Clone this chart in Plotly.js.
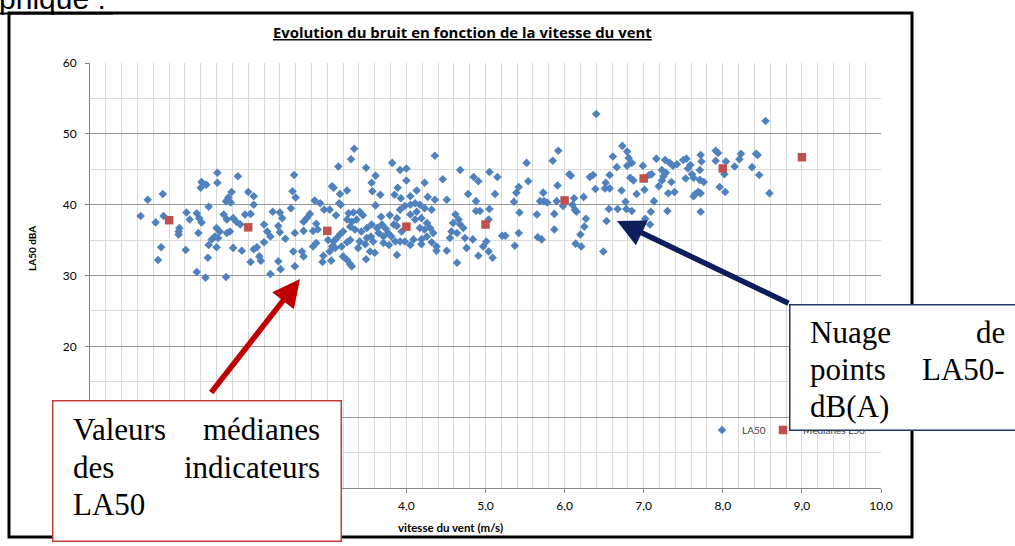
<!DOCTYPE html>
<html>
<head>
<meta charset="utf-8">
<script src="https://cdn.plot.ly/plotly-3.0.1.min.js"></script>
<style>
  html, body { margin: 0; padding: 0; background: #ffffff; }
  #chart { width: 1015px; height: 546px; }
</style>
</head>
<body>
<div id="chart"></div>
<script>
// Wind speed (m/s) of each LA50 measurement
const windSpeed = [
  1.61,1.87,1.41,1.47,1.61,1.40,0.92,0.73,1.79,2.00,
  2.07,1.75,1.72,1.78,2.07,1.50,0.64,0.93,1.22,1.35,
  1.26,0.83,1.38,1.41,1.13,1.12,1.12,1.37,1.69,1.73,
  1.81,1.85,1.90,1.96,2.03,1.60,1.64,1.58,1.54,1.50,
  1.62,1.73,1.77,1.60,0.90,1.21,1.49,0.86,1.81,1.92,
  2.07,2.11,2.14,2.16,2.03,2.20,2.20,2.24,2.28,2.31,
  2.40,2.43,2.38,2.40,2.47,2.38,2.41,2.28,2.59,1.35,
  1.46,1.72,2.58,2.56,2.54,2.60,2.59,2.57,
  3.34,3.30,3.14,3.49,3.61,3.56,3.57,3.67,3.82,3.92,
  4.00,4.00,3.89,3.85,3.93,4.05,4.13,4.23,4.36,4.46,
  4.68,4.27,4.36,4.51,4.78,3.06,3.08,3.25,3.16,3.15,
  3.17,3.61,2.84,2.91,2.96,3.03,2.78,2.74,2.70,2.86,
  2.88,2.82,2.70,3.11,3.27,3.33,3.41,3.45,3.25,3.31,
  3.37,3.29,3.35,3.20,3.16,3.12,3.08,3.06,3.10,3.03,
  3.18,3.25,3.29,3.01,2.86,2.82,2.95,3.05,2.94,3.20,
  3.25,3.29,3.31,3.49,2.70,2.68,3.41,3.39,3.48,3.54,
  3.60,3.43,3.50,3.56,3.63,3.69,3.74,3.65,3.71,3.77,
  3.81,3.68,3.79,3.88,3.92,3.98,4.05,4.11,4.17,4.23,
  4.32,4.13,4.05,4.11,4.19,4.26,4.17,4.23,4.30,4.34,
  4.26,4.19,4.19,4.32,4.38,4.38,4.51,4.64,3.88,3.92,
  3.98,4.05,4.09,3.88,3.94,3.84,4.62,4.66,4.59,4.68,
  4.57,4.64,4.72,4.74,4.76,4.55,3.58,3.71,3.78,3.86,
  3.55,3.50,
  6.40,5.92,5.52,5.85,5.05,5.15,4.85,4.91,5.54,5.42,
  5.39,5.12,4.88,5.36,5.91,5.73,5.69,5.74,5.78,5.90,
  5.98,6.06,6.08,6.12,6.10,6.13,6.15,6.24,6.32,6.36,
  6.39,6.52,6.51,6.57,6.57,6.61,6.66,6.73,6.79,6.81,
  6.79,6.85,6.83,6.87,6.72,6.91,6.77,6.56,6.67,6.78,
  6.85,6.53,6.27,6.25,6.20,6.14,6.21,6.49,5.87,5.87,
  5.65,5.43,5.42,5.37,5.21,5.25,5.66,5.71,5.04,4.84,
  5.01,4.97,5.04,4.91,5.09,5.05,4.93,4.88,
  8.54,7.91,7.94,7.72,8.23,8.42,8.44,8.21,7.16,7.27,
  7.33,7.37,7.42,7.50,7.54,7.59,7.56,7.73,7.91,8.04,
  8.15,8.37,6.99,7.07,7.10,7.23,7.28,7.25,7.23,7.35,
  7.71,7.61,7.63,7.53,7.71,7.76,8.02,8.46,7.19,7.01,
  7.31,7.39,7.65,7.69,7.72,7.63,7.96,8.03,8.59,7.13,
  7.09,7.30,7.72,7.02,7.08,6.97
];

// LA50 level (dBA) of each measurement
const la50 = [
  44.5,44.0,43.2,42.8,43.1,42.4,41.5,40.7,41.8,41.8,
  41.2,41.0,40.5,40.3,40.0,39.7,38.4,38.4,38.9,38.8,
  37.9,37.5,38.1,37.5,36.7,36.2,35.8,36.0,38.6,37.9,
  38.1,37.6,37.2,38.6,38.7,36.7,36.2,35.5,35.1,34.3,
  35.3,36.0,36.2,34.0,34.0,33.6,32.5,32.2,33.9,33.5,
  33.7,34.0,32.7,32.1,31.9,34.7,37.2,36.2,35.5,39.0,
  38.9,38.1,37.0,36.1,35.2,32.0,30.9,30.2,31.3,30.5,
  29.7,29.8,44.2,41.9,39.5,41.0,36.0,33.4,
  47.9,46.4,45.4,45.2,44.1,43.1,41.9,41.4,45.9,44.9,
  45.1,43.4,42.4,41.4,40.9,41.2,42.0,43.1,46.9,43.6,
  44.9,41.1,40.7,40.7,41.5,42.6,42.4,42.0,41.5,40.2,
  40.0,39.9,40.6,40.2,39.3,39.3,38.7,38.1,37.6,37.3,
  36.5,36.3,36.3,38.5,38.8,38.9,39.0,38.5,37.9,37.6,
  37.9,36.9,36.5,36.2,35.8,35.3,34.8,34.1,33.9,33.4,
  34.1,34.7,35.0,35.0,34.6,34.1,32.8,32.1,31.9,32.7,
  32.2,31.6,31.3,32.3,32.7,33.4,34.8,33.9,34.4,33.4,
  33.2,36.2,36.7,37.2,36.7,37.2,36.6,36.0,35.5,36.0,
  35.5,38.3,38.5,38.1,39.3,39.8,40.0,40.2,40.0,39.5,
  39.3,39.0,38.6,37.9,38.1,37.4,36.7,36.5,36.7,36.0,
  35.5,35.1,34.4,34.7,34.1,33.5,33.5,31.8,32.9,34.8,
  34.8,34.3,35.1,37.0,36.2,37.2,38.6,37.9,37.4,37.2,
  36.2,36.0,36.7,35.3,33.9,35.3,34.8,34.6,34.3,34.8,
  35.5,35.3,
  52.8,47.6,45.9,46.2,44.6,43.9,43.9,43.3,43.3,42.5,
  41.7,41.5,40.5,40.4,42.7,41.7,40.5,40.5,40.3,40.5,
  39.8,44.3,44.1,40.9,40.0,39.3,39.0,41.1,43.9,44.2,
  42.2,43.1,42.3,42.3,44.2,46.8,45.3,48.3,47.5,46.6,
  45.5,45.9,43.8,43.4,42.0,41.5,40.4,39.4,39.4,39.4,
  39.1,37.7,38.0,36.9,35.8,34.5,34.1,33.4,36.5,38.7,
  38.6,38.9,36.0,34.2,35.6,35.6,35.4,35.1,37.9,35.1,
  34.8,34.1,33.4,32.8,32.5,39.4,39.1,39.1,
  51.8,47.6,47.3,47.0,47.2,47.2,47.0,46.4,46.5,46.3,
  45.9,45.5,45.7,46.3,46.5,45.6,45.1,46.1,46.2,46.1,
  45.4,45.3,45.5,44.2,44.3,44.9,44.5,44.0,43.4,43.2,
  44.9,44.3,43.8,43.7,43.5,43.2,44.3,44.2,42.6,42.1,
  41.6,41.8,41.5,41.8,41.6,41.2,42.5,41.8,41.6,40.5,
  39.0,39.1,39.0,38.0,37.2,37.2
];

// Median LA50 for each wind speed class
const medianWind = [1, 2, 3, 4, 5, 6, 7, 8, 9];
const medianLA50 = [37.8, 36.8, 36.3, 36.9, 37.2, 40.6, 43.7, 45.1, 46.7];

const chartTitle = 'Evolution du bruit en fonction de la vitesse du vent';
const xTitle = 'vitesse du vent (m/s)';
const yTitle = 'LA50 dBA';

// plot area geometry (pixels)
const W = 1015, H = 546;
const M = { l: 90, r: 134, t: 63, b: 58 };
const PW = W - M.l - M.r, PH = H - M.t - M.b;
const px = v => (v - M.l) / PW;          // pixel x -> paper x
const py = v => (H - M.b - v) / PH;      // pixel y -> paper y

const blue = '#4f81bd';
const red = '#c0504d';

const traces = [
  {
    type: 'scatter', mode: 'markers', name: 'LA50',
    x: windSpeed, y: la50,
    marker: { symbol: 'diamond', size: 6.6, color: blue, line: { width: 0 } },
    legend: 'legend', hoverinfo: 'x+y'
  },
  {
    type: 'scatter', mode: 'markers', name: 'Médianes L50',
    x: medianWind, y: medianLA50,
    marker: { symbol: 'square', size: 8.5, color: red, line: { width: 0 } },
    legend: 'legend2', hoverinfo: 'x+y'
  }
];

const serif = 'Liberation Serif, Times New Roman, serif';
const txt = (text, x, y, anchor, opts) => Object.assign({
  text, xref: 'paper', yref: 'paper', x: px(x), y: py(y),
  xanchor: anchor, yanchor: 'middle', showarrow: false,
  borderpad: 0, borderwidth: 0,
  font: { family: serif, size: 31, color: '#000' }
}, opts || {});

const boxAnn = (x0, y0, x1, y1, color) => ({
  text: ' ', xref: 'paper', yref: 'paper', x: px(x0), y: py(y0),
  xanchor: 'left', yanchor: 'top', showarrow: false,
  width: x1 - x0 - 3, height: y1 - y0 - 3,
  bgcolor: '#ffffff', bordercolor: color, borderwidth: 1.5, borderpad: 0
});

const arrowAnn = (tipX, tipY, tailX, tailY, color) => ({
  text: '', xref: 'paper', yref: 'paper', x: px(tipX), y: py(tipY),
  ax: tailX - tipX, ay: tailY - tipY, showarrow: true,
  arrowcolor: color, arrowwidth: 5.5, arrowhead: 2, arrowsize: 1, standoff: 0
});

const annotations = [
  // heading of the page section, cut by the frame
  { text: 'Graphique :', xref: 'paper', yref: 'paper', x: px(108), y: py(-1),
    xanchor: 'right', yanchor: 'middle', showarrow: false,
    font: { family: 'Liberation Sans, Arial, sans-serif', size: 30, color: '#000' } },
  // chart title
  { text: '<b>' + chartTitle + '</b>', xref: 'paper', yref: 'paper',
    x: px(462), y: py(32), xanchor: 'center', yanchor: 'middle', showarrow: false,
    font: { family: 'Open Sans, sans-serif', size: 14.9, color: '#000', lineposition: 'under' } },
  // axis titles
  { text: '<b>' + yTitle + '</b>', xref: 'paper', yref: 'paper',
    x: px(32), y: py(249), xanchor: 'center', yanchor: 'middle', textangle: -90,
    showarrow: false, font: { family: 'Lato, sans-serif', size: 10, color: '#000' } },
  { text: '<b>' + xTitle + '</b>', xref: 'paper', yref: 'paper',
    x: px(450), y: py(527), xanchor: 'center', yanchor: 'middle',
    showarrow: false, font: { family: 'Lato, sans-serif', size: 11.5, color: '#000' } },

  // callout boxes
  boxAnn(52, 400, 342, 542, '#c43b3b'),
  boxAnn(789, 304, 1030, 431, '#1f3864'),

  // callout texts (justified lines)
  txt('Valeurs', 73, 429.5, 'left'),
  txt('médianes', 320, 429.5, 'right'),
  txt('des', 73, 467.5, 'left'),
  txt('indicateurs', 320, 467.5, 'right'),
  txt('LA50', 73, 504.5, 'left'),
  txt('Nuage', 810, 332.5, 'left'),
  txt('de', 1005, 332.5, 'right'),
  txt('points', 810, 369.5, 'left'),
  txt('LA50-', 1005, 369.5, 'right'),
  txt('dB(A)', 810, 406.5, 'left'),

  // arrows
  arrowAnn(300, 279, 210, 394, '#c00000'),
  arrowAnn(617, 221, 790, 304, '#0c1f5c')
];

const shapes = [
  // frame of the chart
  { type: 'rect', xref: 'paper', yref: 'paper',
    x0: px(9), x1: px(912), y0: py(13), y1: py(537),
    line: { color: '#000', width: 3 }, fillcolor: 'rgba(0,0,0,0)' },
  // underline of the heading
  { type: 'line', xref: 'paper', yref: 'paper',
    x0: px(0), x1: px(113), y0: py(13.5), y1: py(13.5),
    line: { color: '#000', width: 2 } }
];

const axisFont = { family: 'Lato, sans-serif', size: 12, color: '#000' };

const layout = {
  width: W, height: H, margin: M,
  paper_bgcolor: '#ffffff', plot_bgcolor: '#ffffff',
  separators: ',.',
  font: axisFont,
  showlegend: true,
  xaxis: {
    range: [0, 10], tick0: 0, dtick: 1, tickformat: '.1f',
    showgrid: true, gridcolor: '#d9d9d9', gridwidth: 1,
    minor: { dtick: 0.2, showgrid: true, gridcolor: '#d9d9d9', gridwidth: 1 },
    showline: true, linecolor: '#868686', linewidth: 1,
    ticks: 'outside', ticklen: 4, tickcolor: '#868686',
    ticklabelstandoff: 3,
    zeroline: false, tickfont: axisFont, fixedrange: true
  },
  yaxis: {
    range: [0, 60], tick0: 0, dtick: 10,
    showgrid: true, gridcolor: '#969696', gridwidth: 1,
    minor: { dtick: 5, showgrid: true, gridcolor: '#d9d9d9', gridwidth: 1 },
    showline: true, linecolor: '#868686', linewidth: 1,
    ticks: 'outside', ticklen: 4, tickcolor: '#868686',
    ticklabelstandoff: 6,
    zeroline: false, tickfont: axisFont, fixedrange: true
  },
  legend: {
    x: px(702), y: py(430), xanchor: 'left', yanchor: 'middle',
    bgcolor: 'rgba(0,0,0,0)', borderwidth: 0,
    font: { family: 'Lato, sans-serif', size: 10, color: '#404040' }
  },
  legend2: {
    x: px(763), y: py(430), xanchor: 'left', yanchor: 'middle',
    bgcolor: 'rgba(0,0,0,0)', borderwidth: 0,
    font: { family: 'Lato, sans-serif', size: 10, color: '#404040' }
  },
  annotations, shapes
};

Plotly.newPlot('chart', traces, layout, { displayModeBar: false, staticPlot: true });
</script>
</body>
</html>
